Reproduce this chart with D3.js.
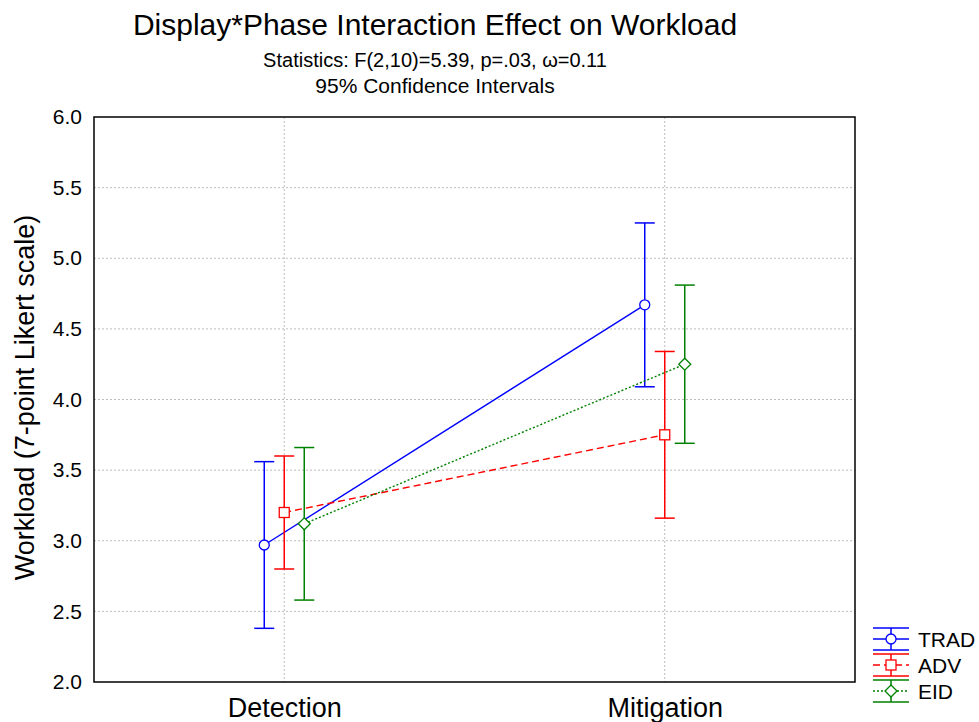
<!DOCTYPE html>
<html lang="en">
<head>
  <meta charset="UTF-8">
  <title>Display*Phase Interaction Effect on Workload</title>
  <script src="https://d3js.org/d3.v7.min.js"></script>
  <style>
    body { margin: 0; background: #fff; }
    svg { font-family: "Liberation Sans", Arial, sans-serif; }
  </style>
</head>
<body>
  <div id="chart"></div>
  <script>
    // data
    const phases = ["Detection", "Mitigation"];
    const seriesNames = ["TRAD", "ADV", "EID"];
    const means = {
      TRAD: [2.97, 4.67],
      ADV: [3.20, 3.75],
      EID: [3.12, 4.25]
    };
    const lowerCI = {
      TRAD: [2.38, 4.09],
      ADV: [2.80, 3.16],
      EID: [2.58, 3.69]
    };
    const upperCI = {
      TRAD: [3.56, 5.25],
      ADV: [3.60, 4.34],
      EID: [3.66, 4.81]
    };
    const yTicks = [2.0, 2.5, 3.0, 3.5, 4.0, 4.5, 5.0, 5.5, 6.0];

    const styles = {
      TRAD: { color: "#0000ff", dash: null, marker: "circle", offset: -20 },
      ADV: { color: "#ff0000", dash: "7,4", marker: "square", offset: 0 },
      EID: { color: "#008000", dash: "2,2", marker: "diamond", offset: 20 }
    };

    const width = 979, height = 722;
    const plot = { left: 94, top: 117, right: 855, bottom: 682 };

    const svg = d3.select("#chart").append("svg")
      .attr("width", width)
      .attr("height", height);

    const x = d3.scalePoint()
      .domain(phases)
      .range([plot.left, plot.right])
      .padding(0.5);

    const y = d3.scaleLinear()
      .domain([2, 6])
      .range([plot.bottom, plot.top]);

    // titles
    svg.append("text")
      .attr("x", 435).attr("y", 35)
      .attr("text-anchor", "middle")
      .attr("font-size", 30)
      .text("Display*Phase Interaction Effect on Workload");
    svg.append("text")
      .attr("x", 435).attr("y", 67)
      .attr("text-anchor", "middle")
      .attr("font-size", 20)
      .text("Statistics: F(2,10)=5.39, p=.03, \u03C9=0.11");
    svg.append("text")
      .attr("x", 435).attr("y", 93)
      .attr("text-anchor", "middle")
      .attr("font-size", 21)
      .text("95% Confidence Intervals");

    // grid lines
    svg.append("g")
      .selectAll("line")
      .data(yTicks.slice(1, -1))
      .join("line")
      .attr("x1", plot.left).attr("x2", plot.right)
      .attr("y1", d => y(d)).attr("y2", d => y(d))
      .attr("stroke", "#bdbdbd")
      .attr("stroke-width", 1)
      .attr("stroke-dasharray", "2,2");

    svg.append("g")
      .selectAll("line")
      .data(phases)
      .join("line")
      .attr("x1", d => x(d)).attr("x2", d => x(d))
      .attr("y1", plot.top).attr("y2", plot.bottom)
      .attr("stroke", "#bdbdbd")
      .attr("stroke-width", 1)
      .attr("stroke-dasharray", "2,2");

    // axes (labels only, frame drawn separately)
    const yAxis = svg.append("g")
      .attr("transform", `translate(${plot.left},0)`)
      .call(d3.axisLeft(y).tickValues(yTicks).tickFormat(d3.format(".1f")).tickSize(0).tickPadding(12));
    yAxis.select(".domain").remove();
    yAxis.selectAll("text").attr("font-size", 21).attr("font-family", "Liberation Sans, Arial, sans-serif").attr("fill", "#000");

    const xAxis = svg.append("g")
      .attr("transform", `translate(0,${plot.bottom})`)
      .call(d3.axisBottom(x).tickSize(0).tickPadding(16));
    xAxis.select(".domain").remove();
    xAxis.selectAll("text").attr("font-size", 27).attr("font-family", "Liberation Sans, Arial, sans-serif").attr("fill", "#000");

    svg.append("rect")
      .attr("x", plot.left).attr("y", plot.top)
      .attr("width", plot.right - plot.left)
      .attr("height", plot.bottom - plot.top)
      .attr("fill", "none")
      .attr("stroke", "#000")
      .attr("stroke-width", 1.5);

    svg.append("text")
      .attr("transform", `translate(34,${(plot.top + plot.bottom) / 2 - 2}) rotate(-90)`)
      .attr("text-anchor", "middle")
      .attr("font-size", 27)
      .text("Workload (7-point Likert scale)");

    function drawMarker(g, kind, cx, cy, color) {
      if (kind === "circle") {
        g.append("circle").attr("cx", cx).attr("cy", cy).attr("r", 5)
          .attr("fill", "#fff").attr("stroke", color).attr("stroke-width", 1.3);
      } else if (kind === "square") {
        g.append("rect").attr("x", cx - 5).attr("y", cy - 5).attr("width", 10).attr("height", 10)
          .attr("fill", "#fff").attr("stroke", color).attr("stroke-width", 1.3);
      } else {
        g.append("path").attr("d", `M${cx},${cy - 6}L${cx + 6},${cy}L${cx},${cy + 6}L${cx - 6},${cy}Z`)
          .attr("fill", "#fff").attr("stroke", color).attr("stroke-width", 1.3);
      }
    }

    const marks = svg.append("g");
    seriesNames.forEach(name => {
      const st = styles[name];
      const px = i => x(phases[i]) + st.offset;
      const g = marks.append("g");

      // error bars
      phases.forEach((p, i) => {
        const cx = px(i);
        g.append("line")
          .attr("x1", cx).attr("x2", cx)
          .attr("y1", y(lowerCI[name][i])).attr("y2", y(upperCI[name][i]))
          .attr("stroke", st.color).attr("stroke-width", 1.5);
        [lowerCI[name][i], upperCI[name][i]].forEach(v => {
          g.append("line")
            .attr("x1", cx - 10).attr("x2", cx + 10)
            .attr("y1", y(v)).attr("y2", y(v))
            .attr("stroke", st.color).attr("stroke-width", 1.5);
        });
      });

      // connecting line
      g.append("path")
        .datum(means[name])
        .attr("d", d3.line().x((d, i) => px(i)).y(d => y(d)))
        .attr("fill", "none")
        .attr("stroke", st.color)
        .attr("stroke-width", 1.4)
        .attr("stroke-dasharray", st.dash);

      phases.forEach((p, i) => drawMarker(g, st.marker, px(i), y(means[name][i]), st.color));
    });

    // legend
    const legend = svg.append("g");
    seriesNames.forEach((name, k) => {
      const st = styles[name];
      const cy = 639 + k * 26;
      const x0 = 873, x1 = 909, xm = (x0 + x1) / 2;
      legend.append("line").attr("x1", xm).attr("x2", xm).attr("y1", cy - 11).attr("y2", cy + 11)
        .attr("stroke", st.color).attr("stroke-width", 1.5);
      [cy - 11, cy + 11].forEach(yy => {
        legend.append("line").attr("x1", x0).attr("x2", x1).attr("y1", yy).attr("y2", yy)
          .attr("stroke", st.color).attr("stroke-width", 1.5);
      });
      legend.append("line").attr("x1", x0).attr("x2", x1).attr("y1", cy).attr("y2", cy)
        .attr("stroke", st.color).attr("stroke-width", 1.4).attr("stroke-dasharray", st.dash);
      drawMarker(legend, st.marker, xm, cy, st.color);
      legend.append("text").attr("x", 918).attr("y", cy + 8)
        .attr("font-size", 21).text(name);
    });
  </script>
</body>
</html>
